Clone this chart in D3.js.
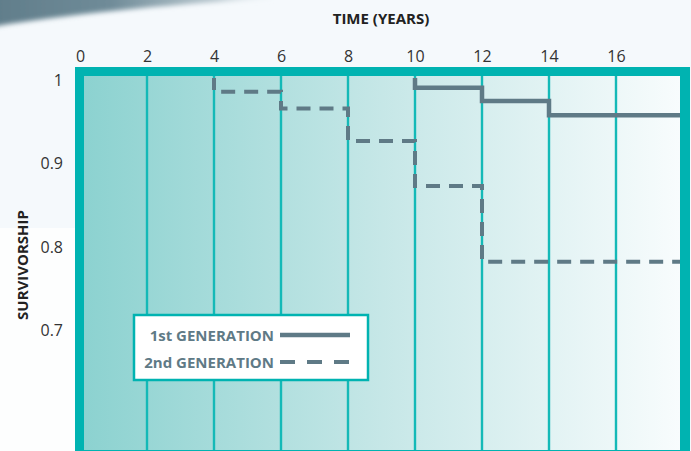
<!DOCTYPE html>
<html>
<head>
<meta charset="utf-8">
<script src="https://cdn.jsdelivr.net/npm/d3@7"></script>
<style>
  html, body { margin: 0; padding: 0; background: #f5f9fc; }
  svg { display: block; }
  text { font-family: "Open Sans", "Noto Sans", sans-serif; }
</style>
</head>
<body>
<div id="chart"></div>
<script>
// Survivorship by generation (step functions over time in years)
const xTicks = [0, 2, 4, 6, 8, 10, 12, 14, 16];
const yTicks = [1, 0.9, 0.8, 0.7];
const yTickLabels = ["1", "0.9", "0.8", "0.7"];

// Each series: times at which survivorship changes, and value from that time on
const gen1Times  = [10, 12, 14, 18];
const gen1Values = [0.986, 0.970, 0.953, 0.953];
const gen2Times  = [4, 6, 8, 10, 12, 18];
const gen2Values = [0.981, 0.961, 0.922, 0.868, 0.777, 0.777];

const seriesNames = ["1st GENERATION", "2nd GENERATION"];

const W = 691, H = 451;
const frame = { left: 75, top: 67, right: 690, bottom: 460 };
const inner = { left: 84, top: 76, right: 680, bottom: 450 };

const teal = "#00b3b1";
const grid = "#14b9b7";
const lineColor = "#5f7a86";

const svg = d3.select("#chart").append("svg")
  .attr("width", W).attr("height", H);

const defs = svg.append("defs");

// plot background: teal fading to near white
const bg = defs.append("linearGradient").attr("id", "plotBg")
  .attr("x1", "0%").attr("x2", "100%").attr("y1", "0%").attr("y2", "0%");
bg.append("stop").attr("offset", "0%").attr("stop-color", "#8cd2d0");
bg.append("stop").attr("offset", "50%").attr("stop-color", "#c6e7e7");
bg.append("stop").attr("offset", "100%").attr("stop-color", "#f8fcfd");

// decorative swoosh at the top-left corner
const sw = defs.append("linearGradient").attr("id", "swoosh")
  .attr("x1", "0%").attr("x2", "100%").attr("y1", "0%").attr("y2", "0%");
sw.append("stop").attr("offset", "0%").attr("stop-color", "#607d8a");
sw.append("stop").attr("offset", "40%").attr("stop-color", "#6f8b98");
sw.append("stop").attr("offset", "75%").attr("stop-color", "#b9c8cf");
sw.append("stop").attr("offset", "100%").attr("stop-color", "#f5f9fc").attr("stop-opacity", 0);
defs.append("filter").attr("id", "soft")
  .attr("x", "-10%").attr("y", "-50%").attr("width", "120%").attr("height", "200%")
  .append("feGaussianBlur").attr("stdDeviation", 2.5);

defs.append("clipPath").attr("id", "plotClip")
  .append("rect")
  .attr("x", inner.left).attr("y", inner.top + 2)
  .attr("width", inner.right - inner.left + 4)
  .attr("height", inner.bottom - inner.top);

// page background
svg.append("rect").attr("width", W).attr("height", H).attr("fill", "#f5f9fc");
svg.append("rect").attr("x", 0).attr("y", 228).attr("width", frame.left).attr("height", H - 228)
  .attr("fill", "#fdfefe");

svg.append("path")
  .attr("d", "M-10,-10 L290,-10 L270,-1 C190,3 90,11 -10,27 Z")
  .attr("fill", "url(#swoosh)")
  .attr("filter", "url(#soft)");

// scales
const x = d3.scaleLinear().domain([0, 18]).range([80, 683]);
const y = d3.scaleLinear().domain([0.7, 1]).range([326, 76]);

// plot area
svg.append("rect")
  .attr("x", inner.left).attr("y", inner.top)
  .attr("width", inner.right - inner.left).attr("height", inner.bottom - inner.top)
  .attr("fill", "url(#plotBg)");

// vertical gridlines
svg.append("g").selectAll("line")
  .data(xTicks.filter(d => d > 0))
  .join("line")
  .attr("x1", d => x(d)).attr("x2", d => x(d))
  .attr("y1", inner.top).attr("y2", inner.bottom)
  .attr("stroke", grid).attr("stroke-width", 2.4);

// step: value holds until the next change time
function stepPath(times, values) {
  const pts = [[times[0], 1]];
  for (let i = 0; i < times.length; i++) {
    pts.push([times[i], values[i]]);
    if (i + 1 < times.length) pts.push([times[i + 1], values[i]]);
  }
  return d3.line().x(d => x(d[0])).y(d => y(d[1]))(pts);
}

const lines = svg.append("g").attr("clip-path", "url(#plotClip)");

lines.append("path")
  .attr("d", stepPath(gen1Times, gen1Values))
  .attr("fill", "none").attr("stroke", lineColor)
  .attr("stroke-width", 4.5).attr("stroke-linejoin", "miter");

lines.append("path")
  .attr("d", stepPath(gen2Times, gen2Values))
  .attr("fill", "none").attr("stroke", lineColor)
  .attr("stroke-width", 4).attr("stroke-dasharray", "14,9");

// frame
svg.append("path")
  .attr("d",
    `M${frame.left},${frame.top}H${frame.right}V${frame.bottom}H${frame.left}Z` +
    `M${inner.left},${inner.top}V${inner.bottom}H${inner.right}V${inner.top}Z`)
  .attr("fill", teal).attr("fill-rule", "evenodd");

// x axis labels (top)
const xAxis = d3.axisTop(x).tickValues(xTicks).tickSize(0).tickPadding(0);
const gx = svg.append("g").attr("transform", "translate(0,62)").call(xAxis);
gx.select(".domain").remove();
gx.selectAll("text")
  .attr("y", 0).attr("dy", 0)
  .attr("fill", "#333")
  .style("font-size", "16px")
  .style("font-family", "'Open Sans', sans-serif");

// y axis labels (left)
const yAxis = d3.axisLeft(y).tickValues(yTicks)
  .tickFormat((d, i) => yTickLabels[i]).tickSize(0).tickPadding(0);
const gy = svg.append("g").attr("transform", "translate(63,0)").call(yAxis);
gy.select(".domain").remove();
gy.selectAll("text")
  .attr("x", 0).attr("dy", "0.6em")
  .attr("fill", "#333")
  .style("font-size", "16px")
  .style("font-family", "'Open Sans', sans-serif");

// axis titles
svg.append("text")
  .attr("x", 381).attr("y", 24)
  .attr("text-anchor", "middle")
  .attr("fill", "#222")
  .style("font-size", "15px").style("font-weight", "700")
  .text("TIME (YEARS)");

svg.append("text")
  .attr("transform", "translate(28,265) rotate(-90)")
  .attr("text-anchor", "middle")
  .attr("fill", "#222")
  .style("font-size", "15px").style("font-weight", "700")
  .text("SURVIVORSHIP");

// legend
const legend = svg.append("g");
legend.append("rect")
  .attr("x", 134).attr("y", 315).attr("width", 234).attr("height", 65)
  .attr("fill", "#ffffff").attr("stroke", teal).attr("stroke-width", 2.5);

const legendRows = [
  { name: seriesNames[0], dash: null, width: 4.5 },
  { name: seriesNames[1], dash: "15,12", width: 4 }
];
legendRows.forEach((r, i) => {
  const cy = 335 + i * 27;
  legend.append("text")
    .attr("x", 274).attr("y", cy + 5.5)
    .attr("text-anchor", "end")
    .attr("fill", lineColor)
    .style("font-size", "15px").style("font-weight", "700")
    .text(r.name);
  legend.append("line")
    .attr("x1", 280).attr("x2", 350).attr("y1", cy).attr("y2", cy)
    .attr("stroke", lineColor).attr("stroke-width", r.width)
    .attr("stroke-dasharray", r.dash);
});
</script>
</body>
</html>
